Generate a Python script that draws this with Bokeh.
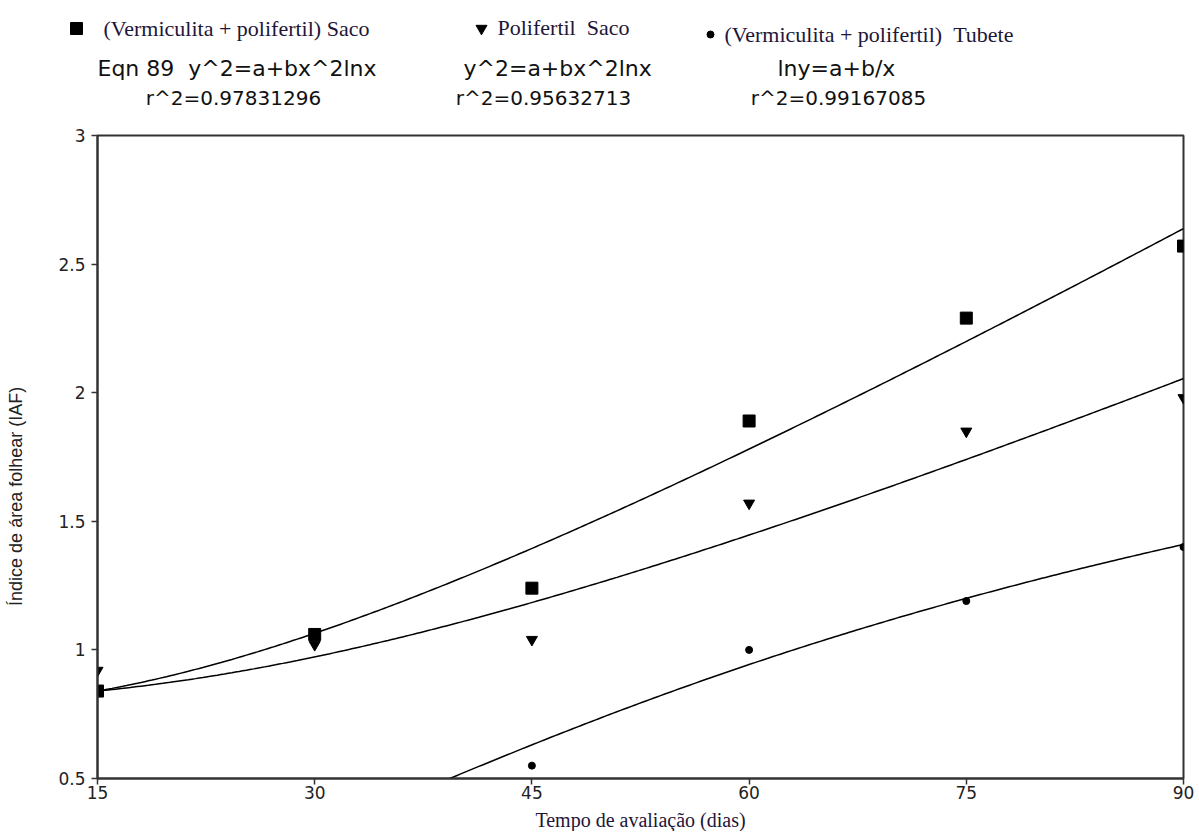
import numpy as np
from bokeh.plotting import figure
from bokeh.layouts import column, row
from bokeh.models import FixedTicker, Range1d
from bokeh.core.properties import value
from bokeh.embed import file_html
from bokeh.resources import INLINE

# ---------------- data ----------------
dias = [15, 30, 45, 60, 75, 90]
vp_saco = [0.84, 1.06, 1.24, 1.89, 2.29, 2.57]
poli_saco = [0.92, 1.02, 1.04, 1.57, 1.85, 1.98]
dias_tubete = [45, 60, 75, 90]
vp_tubete = [0.55, 1.00, 1.19, 1.40]

series_names = ["(Vermiculita + polifertil) Saco", "Polifertil  Saco",
                "(Vermiculita + polifertil)  Tubete"]
equations = ["Eqn 89  y^2=a+bx^2lnx", "y^2=a+bx^2lnx", "lny=a+b/x"]
r2_labels = ["r^2=0.97831296", "r^2=0.95632713", "r^2=0.99167085"]

# fitted coefficients (a, b)
coef_vp_saco = [0.5993, 1.745e-4]     # y^2 = a + b x^2 ln x
coef_poli_saco = [0.6458, 9.815e-5]   # y^2 = a + b x^2 ln x
coef_vp_tubete = [1.148, -72.4]       # ln y = a + b / x

x_ticks = [15, 30, 45, 60, 75, 90]
y_ticks = [0.5, 1, 1.5, 2, 2.5, 3]
y_tick_labels = ["0.5", "1", "1.5", "2", "2.5", "3"]
x_title = "Tempo de avaliação (dias)"
y_title = "Índice de área folhear (IAF)"

# ---------------- layout sizes ----------------
W, H = 1199, 831
HEAD_H = 120
LEFT_W = 40
FRAME_L, FRAME_R, FRAME_T, FRAME_B = 97, 1183, 135, 778
BOTTOM_BORDER = 28
MAIN_H = FRAME_B - HEAD_H + BOTTOM_BORDER
FOOT_H = H - HEAD_H - MAIN_H
X0, X1, Y0, Y1 = 15, 90, 0.5, 3
serif_col = "#1e1638"

def keep_gaps(s):
    return s.replace("  ", " \u00a0")

def blank(width, height):
    f = figure(width=width, height=height, x_range=Range1d(0, width),
               y_range=Range1d(height, 0), output_backend="svg",
               toolbar_location=None, min_border=0)
    f.axis.visible = False
    f.grid.visible = False
    f.outline_line_color = None
    return f

# ---------------- header ----------------
head = blank(W, HEAD_H)
marker_kinds = ["square", "inverted_triangle", "circle"]
marker_px = [(76, 28, 12), (481, 28, 11), (710, 34, 7)]
name_px = [(103, 28), (497, 27), (724, 34)]
eq_px = [(97, 68), (463, 68), (777, 68)]
r2_px = [(233, 97), (543, 97), (838, 97)]

for i in range(3):
    mx, my, ms = marker_px[i]
    head.scatter([mx], [my], marker=marker_kinds[i], size=ms, color="black")
    nx, ny = name_px[i]
    head.text([nx], [ny], text=[keep_gaps(series_names[i])],
              text_font=value("Liberation Serif"), text_font_size="22px",
              text_color=serif_col, text_baseline="middle", text_align="left")
    ex, ey = eq_px[i]
    head.text([ex], [ey], text=[keep_gaps(equations[i])],
              text_font=value("DejaVu Sans"), text_font_size="22px",
              text_color="#111111", text_baseline="middle", text_align="left")
    rx, ry = r2_px[i]
    head.text([rx], [ry], text=[r2_labels[i]], text_font=value("DejaVu Sans"),
              text_font_size="20px", text_color="#111111", text_baseline="middle",
              text_align="center")

# ---------------- left title strip ----------------
left = blank(LEFT_W, MAIN_H)
left.text([15], [505 - HEAD_H], text=[y_title], text_font=value("Liberation Sans"),
          text_font_size="18px", text_color="#222222", text_baseline="middle",
          text_align="center", angle=np.pi / 2)

# ---------------- footer (x title) ----------------
foot = blank(W, FOOT_H)
foot.text([(FRAME_L + FRAME_R) / 2], [FOOT_H / 2 + 1], text=[x_title],
          text_font=value("Liberation Serif"), text_font_size="20px",
          text_color=serif_col, text_baseline="middle", text_align="center")

# ---------------- main plot ----------------
p = figure(width=W - LEFT_W, height=MAIN_H, x_range=Range1d(X0, X1),
           y_range=Range1d(Y0, Y1), output_backend="svg", toolbar_location=None,
           min_border_left=FRAME_L - LEFT_W, min_border_right=W - FRAME_R,
           min_border_top=FRAME_T - HEAD_H, min_border_bottom=BOTTOM_BORDER)
p.grid.visible = False
p.outline_line_color = "#333333"
p.outline_line_width = 2

for ax in (p.xaxis[0], p.yaxis[0]):
    ax.axis_line_color = "#333333"
    ax.axis_line_width = 2
    ax.major_tick_line_color = "#333333"
    ax.major_tick_line_width = 1.5
    ax.major_tick_in = 0
    ax.major_tick_out = 6
    ax.minor_tick_line_color = None
    ax.major_label_text_font = "DejaVu Sans"
    ax.major_label_text_font_size = "17px"
    ax.major_label_text_color = "#222222"

p.xaxis.ticker = FixedTicker(ticks=x_ticks)
p.xaxis.major_label_standoff = 1
p.yaxis.ticker = FixedTicker(ticks=y_ticks)
p.yaxis.major_label_overrides = {t: l for t, l in zip(y_ticks, y_tick_labels)}
p.yaxis.major_label_standoff = 6

xs = np.linspace(X0, X1, 300)
curve1 = np.sqrt(coef_vp_saco[0] + coef_vp_saco[1] * xs ** 2 * np.log(xs))
curve2 = np.sqrt(coef_poli_saco[0] + coef_poli_saco[1] * xs ** 2 * np.log(xs))
curve3 = np.exp(coef_vp_tubete[0] + coef_vp_tubete[1] / xs)
for c in (curve1, curve2, curve3):
    p.line(xs, c, line_color="black", line_width=1.5)

p.scatter(dias, vp_saco, marker="square", size=12, color="black")
p.scatter(dias, poli_saco, marker="inverted_triangle", size=11, color="black")
p.scatter(dias_tubete, vp_tubete, marker="circle", size=7, color="black")

layout = column(head, row(left, p), foot)
open("out.html", "w").write(file_html(layout, INLINE))
